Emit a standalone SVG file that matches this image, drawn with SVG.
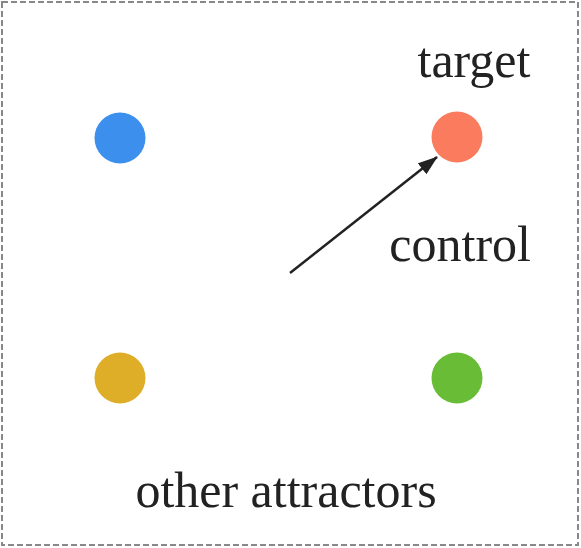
<svg xmlns="http://www.w3.org/2000/svg" width="581" height="548" viewBox="0 0 581 548">
<style>
.lbl{font-family:"Liberation Serif","Times New Roman",serif;font-size:50px;fill:#222}
.dot{stroke:none}
</style>
<defs>
<marker id="ah2" viewBox="0 0 20 14" refX="19" refY="7" markerWidth="20" markerHeight="14" orient="auto" markerUnits="userSpaceOnUse">
<path d="M0,0 L20,7 L0,14 Z" fill="#222"/>
</marker>
</defs>
<rect x="2" y="2" width="576" height="543" fill="#fff" stroke="#888" stroke-width="2" stroke-dasharray="6,3"/>
<g id="blue"><circle class="dot" cx="120" cy="138" r="25.5" fill="#3d8fee"/></g>
<g id="target"><circle class="dot" cx="457" cy="137" r="25.5" fill="#fa7b5d"/><text class="lbl" x="474" y="77" text-anchor="middle">target</text></g>
<g id="yellow"><circle class="dot" cx="120" cy="378" r="25.5" fill="#dfae28"/></g>
<g id="green"><circle class="dot" cx="457" cy="378" r="25.5" fill="#69bc36"/></g>
<g id="labels">
<text class="lbl" x="531" y="261" text-anchor="end">control</text>
<text class="lbl" x="286" y="507" text-anchor="middle">other attractors</text>
</g>
<g id="connectors">
<line x1="290" y1="273" x2="437" y2="157" stroke="#222" stroke-width="2.5" marker-end="url(#ah2)"/>
</g>
</svg>
